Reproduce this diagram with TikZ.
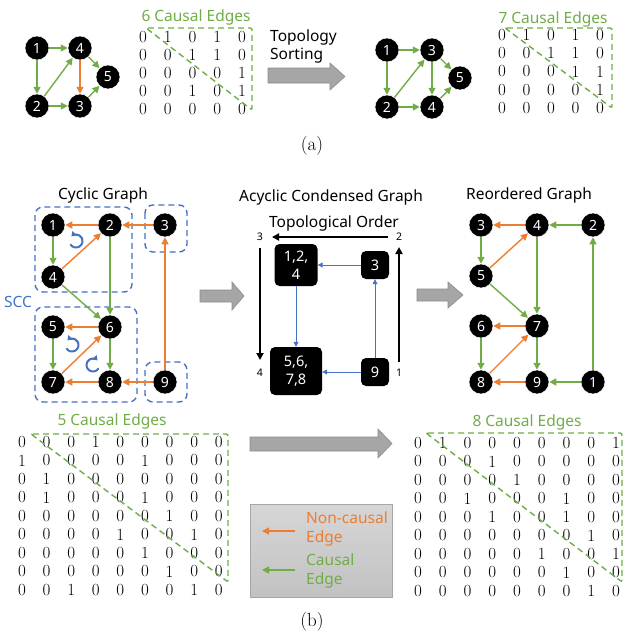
\documentclass[tikz,border=0pt]{standalone}
\usepackage{fontspec}
\newfontfamily\sansfont{Noto Sans}
\usetikzlibrary{arrows.meta}

\definecolor{causalgreen}{HTML}{70AD47}
\definecolor{noncausalorange}{HTML}{ED7D31}
\definecolor{sccblue}{HTML}{4472C4}
\definecolor{arrowgray}{HTML}{A6A6A6}
\definecolor{arrowdraw}{HTML}{8C8C8C}

\tikzset{
  var/.style = {circle, fill=black, draw=white, line width=.5pt, inner sep=0pt, minimum size=24pt,
    text=white, font=\sansfont\bfseries\fontsize{14}{14}\selectfont},
  causal/.style = {-{Triangle[length=7pt, width=7pt]}, causalgreen, line width=1.4pt},
  noncausal/.style = {-{Triangle[length=7pt, width=7pt]}, noncausalorange, line width=1.4pt},
  cond/.style = {-{Triangle[length=5pt, width=5pt]}, sccblue, line width=.8pt},
  order/.style = {-{Triangle[length=7pt, width=7pt]}, black, line width=1.8pt},
  entry/.style = {font=\fontsize{17}{17}\selectfont, inner sep=0pt},
  heading/.style = {font=\sansfont\fontsize{15.5}{15.5}\selectfont, inner sep=0pt},
  edgecount/.style = {heading, text=causalgreen},
  diag/.style = {causalgreen, line width=1.4pt, dash pattern=on 6pt off 4pt, rounded corners=2pt},
  sccbox/.style = {sccblue, line width=1.4pt, dash pattern=on 6pt off 4pt, rounded corners=8pt},
  block/.style = {fill=arrowgray, draw=arrowdraw, line width=.6pt},
  sccnode/.style = {rounded corners=5pt, fill=black, text=white, align=center, inner sep=0pt,
    font=\sansfont\fontsize{14.5}{18}\selectfont},
  spin/.style = {-{Triangle[length=4.5pt, width=6pt]}, sccblue, line width=2pt},
  ordernum/.style = {font=\sansfont\fontsize{10.5}{10.5}\selectfont, inner sep=0pt},
  legendbox/.style = {minimum width=142pt, minimum height=93pt, draw=arrowgray, inner sep=0pt,
    top color=black!16, bottom color=black!24},
}

\begin{document}
\begin{tikzpicture}[x = 1pt, y = -1pt]
  \useasboundingbox (0,0) rectangle (625,635);

  % (a) graph before sorting
  \node[var] (a1) at (37,48) {1};
  \node[var] (a4) at (80,48) {4};
  \node[var] (a5) at (108,77) {5};
  \node[var] (a2) at (37,106) {2};
  \node[var] (a3) at (80,106) {3};
  \draw[causal] (a1) -- (a4);
  \draw[causal] (a1) -- (a2);
  \draw[causal] (a2) -- (a4);
  \draw[causal] (a2) -- (a3);
  \draw[noncausal] (a4) -- (a3);
  \draw[causal] (a4) -- (a5);
  \draw[causal] (a3) -- (a5);

  \node[edgecount] (counta) at (196,17) {6 Causal Edges};
  \foreach \row [count=\i] in {{0,1,0,1,0},{0,0,1,1,0},{0,0,0,0,1},{0,0,1,0,1},{0,0,0,0,0}}
    \foreach \v [count=\j] in \row
      \node[entry] (pa-\i-\j) at ({143+24.75*(\j-1)}, {37+17.9*(\i-1)}) {\v};
  \draw[diag] (146,28) -- (252,28) -- (252,110) -- cycle;

  % topology sorting
  \node[heading, align=left, anchor=west, font=\sansfont\fontsize{15.5}{18}\selectfont] (sorting) at (270,46) {Topology\\Sorting};
  \draw[block] (268,68) -- (330,68) -- (330,63) -- (345,76.5) -- (330,90) -- (330,83) -- (268,83) -- cycle;

  % (a) graph after sorting
  \node[var] (r1) at (387,50) {1};
  \node[var] (r3) at (432,50) {3};
  \node[var] (r5) at (460,78) {5};
  \node[var] (r2) at (387,107) {2};
  \node[var] (r4) at (432,107) {4};
  \draw[causal] (r1) -- (r3);
  \draw[causal] (r1) -- (r2);
  \draw[causal] (r2) -- (r3);
  \draw[causal] (r2) -- (r4);
  \draw[causal] (r3) -- (r4);
  \draw[causal] (r3) -- (r5);
  \draw[causal] (r4) -- (r5);

  \node[edgecount] (countb) at (553,19) {7 Causal Edges};
  \foreach \row [count=\i] in {{0,1,0,1,0},{0,0,1,1,0},{0,0,0,1,1},{0,0,0,0,1},{0,0,0,0,0}}
    \foreach \v [count=\j] in \row
      \node[entry] (pb-\i-\j) at ({502+24.5*(\j-1)}, {35+18.2*(\i-1)}) {\v};
  \draw[diag] (505,28) -- (612,28) -- (612,108) -- cycle;

  \node[entry, font=\fontsize{19}{19}\selectfont] (capa) at (312,146) {(a)};

  % (b) cyclic graph
  \node[heading] (cyclic) at (103,195) {Cyclic Graph};
  \draw[sccbox] (35,207) rectangle (132,292);
  \draw[sccbox] (145,205) rectangle (187,252);
  \draw[sccbox] (35,307) rectangle (137,402);
  \draw[sccbox] (145,362) rectangle (187,402);
  \node[heading, text=sccblue] (scc) at (18,302) {SCC};

  \node[var] (c1) at (53,225) {1};
  \node[var] (c2) at (110,225) {2};
  \node[var] (c3) at (165,225) {3};
  \node[var] (c4) at (53,277) {4};
  \node[var] (c5) at (53,327) {5};
  \node[var] (c6) at (110,327) {6};
  \node[var] (c7) at (53,382) {7};
  \node[var] (c8) at (110,382) {8};
  \node[var] (c9) at (165,382) {9};
  \draw[noncausal] (c2) -- (c1);
  \draw[noncausal] (c3) -- (c2);
  \draw[causal] (c1) -- (c4);
  \draw[noncausal] (c4) -- (c2);
  \draw[causal] (c2) -- (c6);
  \draw[causal] (c4) -- (c6);
  \draw[noncausal] (c6) -- (c5);
  \draw[causal] (c5) -- (c7);
  \draw[noncausal] (c7) -- (c6);
  \draw[causal] (c6) -- (c8);
  \draw[noncausal] (c8) -- (c7);
  \draw[noncausal] (c9) -- (c8);
  \draw[noncausal] (c9) -- (c3);
  \draw[spin] (76,241) ++(150:6.5) arc[start angle=150, end angle=-135, radius=6.5];
  \draw[spin] (72,345) ++(150:6.5) arc[start angle=150, end angle=-135, radius=6.5];
  \draw[spin] (93,365) ++(30:6.5) arc[start angle=30, end angle=315, radius=6.5];

  \draw[block] (200,290) -- (232,290) -- (232,282) -- (244,296) -- (232,310) -- (232,302) -- (200,302) -- cycle;

  % (b) acyclic condensed graph
  \node[heading] (condensed) at (331,197) {Acyclic Condensed Graph};
  \node[heading] (toporder) at (334,223) {Topological Order};
  \node[sccnode, minimum width=43pt, minimum height=42pt] (s124) at (296,265) {1,2,\\4};
  \node[sccnode, minimum width=28pt, minimum height=28pt] (s3) at (375,265) {3};
  \node[sccnode, minimum width=52pt, minimum height=48pt] (s5678) at (296,371) {5,6,\\7,8};
  \node[sccnode, minimum width=28pt, minimum height=28pt] (s9) at (375,372) {9};
  \draw[cond] (s3) -- (s124);
  \draw[cond] (s124) -- (s5678);
  \draw[cond] (s9) -- (s5678.east |- s9);
  \draw[cond] (s9) -- (s3);

  \coordinate (t1) at (399,362);
  \coordinate (t2) at (399,247);
  \coordinate (t2b) at (388,237);
  \coordinate (t3) at (272,237);
  \coordinate (t3b) at (260,248);
  \coordinate (t4) at (260,360);
  \draw[order] (t1) -- (t2);
  \draw[order] (t2b) -- (t3);
  \draw[order] (t3b) -- (t4);
  \node[ordernum] (n1) at (399,373) {1};
  \node[ordernum] (n2) at (399,237) {2};
  \node[ordernum] (n3) at (260,237) {3};
  \node[ordernum] (n4) at (260,373) {4};

  \draw[block] (417,289) -- (448,289) -- (448,282) -- (463,295) -- (448,308) -- (448,301) -- (417,301) -- cycle;

  % (b) reordered graph
  \node[heading] (reordered) at (529,195) {Reordered Graph};
  \node[var] (o3) at (481,225) {3};
  \node[var] (o4) at (537,225) {4};
  \node[var] (o2) at (593,225) {2};
  \node[var] (o5) at (481,276) {5};
  \node[var] (o6) at (481,326) {6};
  \node[var] (o7) at (537,326) {7};
  \node[var] (o8) at (481,382) {8};
  \node[var] (o9) at (537,382) {9};
  \node[var] (o1) at (593,382) {1};
  \draw[noncausal] (o4) -- (o3);
  \draw[causal] (o2) -- (o4);
  \draw[causal] (o3) -- (o5);
  \draw[noncausal] (o5) -- (o4);
  \draw[causal] (o4) -- (o7);
  \draw[causal] (o5) -- (o7);
  \draw[noncausal] (o7) -- (o6);
  \draw[causal] (o6) -- (o8);
  \draw[noncausal] (o8) -- (o7);
  \draw[causal] (o7) -- (o9);
  \draw[noncausal] (o9) -- (o8);
  \draw[causal] (o1) -- (o9);
  \draw[causal] (o1) -- (o2);

  % (b) adjacency matrices
  \node[edgecount] (countc) at (112,421) {5 Causal Edges};
  \foreach \row [count=\i] in {{0,0,0,1,0,0,0,0,0},{1,0,0,0,0,1,0,0,0},{0,1,0,0,0,0,0,0,0},
      {0,1,0,0,0,1,0,0,0},{0,0,0,0,0,0,1,0,0},{0,0,0,0,1,0,0,1,0},
      {0,0,0,0,0,1,0,0,0},{0,0,0,0,0,0,1,0,0},{0,0,1,0,0,0,0,1,0}}
    \foreach \v [count=\j] in \row
      \node[entry] (pc-\i-\j) at ({22+24.6*(\j-1)}, {442+18.5*(\i-1)}) {\v};
  \draw[diag] (31,434) -- (228,434) -- (228,582) -- cycle;

  \draw[block] (250,437) -- (378,437) -- (378,429) -- (392,443.5) -- (378,458) -- (378,451) -- (250,451) -- cycle;

  \node[edgecount] (countd) at (527,422) {8 Causal Edges};
  \foreach \row [count=\i] in {{0,1,0,0,0,0,0,0,1},{0,0,0,1,0,0,0,0,0},{0,0,0,0,1,0,0,0,0},
      {0,0,1,0,0,0,1,0,0},{0,0,0,1,0,0,1,0,0},{0,0,0,0,0,0,0,1,0},
      {0,0,0,0,0,1,0,0,1},{0,0,0,0,0,0,1,0,0},{0,0,0,0,0,0,0,1,0}}
    \foreach \v [count=\j] in \row
      \node[entry] (pd-\i-\j) at ({418+24.75*(\j-1)}, {443+18.5*(\i-1)}) {\v};
  \draw[diag] (426,433) -- (622,433) -- (622,582) -- cycle;

  % legend
  \node[legendbox] (legend) at (321,550.5) {};
  \coordinate (nc1) at (295,531);
  \coordinate (nc2) at (262,531);
  \coordinate (ca1) at (295,570);
  \coordinate (ca2) at (262,570);
  \draw[noncausal] (nc1) -- (nc2);
  \draw[causal] (ca1) -- (ca2);
  \node[heading, text=noncausalorange, align=left, anchor=west, font=\sansfont\fontsize{15.5}{19}\selectfont] (nclabel) at (306,528.5) {Non-causal\\Edge};
  \node[heading, text=causalgreen, align=left, anchor=west, font=\sansfont\fontsize{15.5}{19}\selectfont] (calabel) at (306,570.5) {Causal\\Edge};

  \node[entry, font=\fontsize{19}{19}\selectfont] (capb) at (312,622) {(b)};
\end{tikzpicture}
\end{document}
